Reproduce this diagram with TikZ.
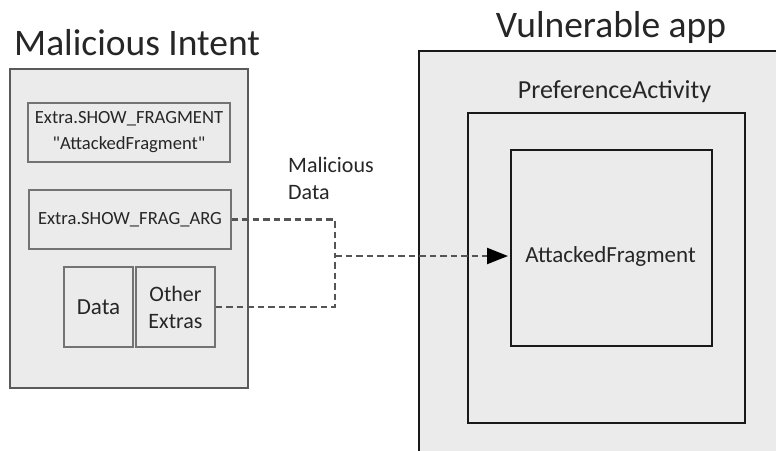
\documentclass[tikz,border=0pt]{standalone}
\usepackage{fontspec}
\setmainfont{Carlito}[Ligatures=TeXOff]
\usetikzlibrary{positioning,arrows.meta}
\definecolor{boxgray}{HTML}{EBEBEB}
\definecolor{edgegray}{HTML}{5A5A5A}
\definecolor{dashgray}{HTML}{555555}
\tikzset{intentBox/.style={rectangle,draw=edgegray,line width=1.5pt,fill=boxgray,inner sep=0pt},
		extraBox/.style={intentBox,draw=edgegray!85,line width=1.3pt},
		appBox/.style={rectangle,draw=black!90,line width=2pt,fill=boxgray,inner sep=0pt},
		titleT/.style={inner sep=0pt,font=\fontsize{37.5}{44}\selectfont,text=black!85},
		smallT/.style={font=\fontsize{18.6}{26}\selectfont,text=black!85},
		midT/.style={font=\fontsize{22}{27}\selectfont,text=black!85},
		dataEdge/.style={dash pattern=on 6.5pt off 4pt,line width=2.2pt,draw=dashgray},
		every node/.style={align=center}}

\begin{document}
\begin{tikzpicture}[x=1pt,y=-1pt]
				\useasboundingbox (0,0) rectangle (776,450);
				\clip (0,0) rectangle (776,450);
				%malicious intent
				\node [intentBox, minimum width=238pt, minimum height=319pt] (intent) at (129,228.5) {};
				\node [titleT, anchor=base west] (intentT) at (14,55) {Malicious Intent};
				\node [extraBox, smallT, minimum width=202pt, minimum height=59pt] (fragbox) at (129,132.5) {Extra.SHOW\_FRAGMENT\\"AttackedFragment"};
				\node [extraBox, smallT, minimum width=202pt, minimum height=59pt] (argbox) at (130,219.5) {Extra.SHOW\_FRAG\_ARG};
				\node [extraBox, midT, font=\fontsize{23}{28}\selectfont, minimum width=69pt, minimum height=80pt] (databox) at (98.5,307) {Data};
				\node [extraBox, midT, minimum width=79pt, minimum height=80pt] (otherbox) at (175.5,307) {Other\\Extras};
				%vulnerable app
				\node [appBox, minimum width=400pt, minimum height=440pt, anchor=north west] (app) at (418,50) {};
				\node [titleT, anchor=base] (appT) at (611,37) {Vulnerable app};
				\node [appBox, minimum width=277pt, minimum height=310pt] (pref) at (606.5,268) {};
				\node [midT, font=\fontsize{26}{30}\selectfont, inner sep=0pt, above=9.5pt of pref, xshift=8pt] (prefT) {PreferenceActivity};
				\node [appBox, minimum width=201pt, minimum height=196pt] (frag) at (611.5,248) {};
				\node [midT, font=\fontsize{23}{28}\selectfont, inner sep=0pt, anchor=base] (fragT) at (610.5,262) {AttackedFragment};
				\node [midT, inner sep=0pt, anchor=base west, align=left] (malT) at (288,199) {Malicious\\Data};
				%edges
				\coordinate (join) at (335,256);
				\draw [dataEdge] (argbox.east) -| (join);
				\draw [dataEdge] (otherbox.east) -| (join);
				\draw [dataEdge, shorten >=2pt, -{Triangle[length=21pt,width=16pt,color=black]}] (join) -- (join -| frag.west);
			\end{tikzpicture}
\end{document}
